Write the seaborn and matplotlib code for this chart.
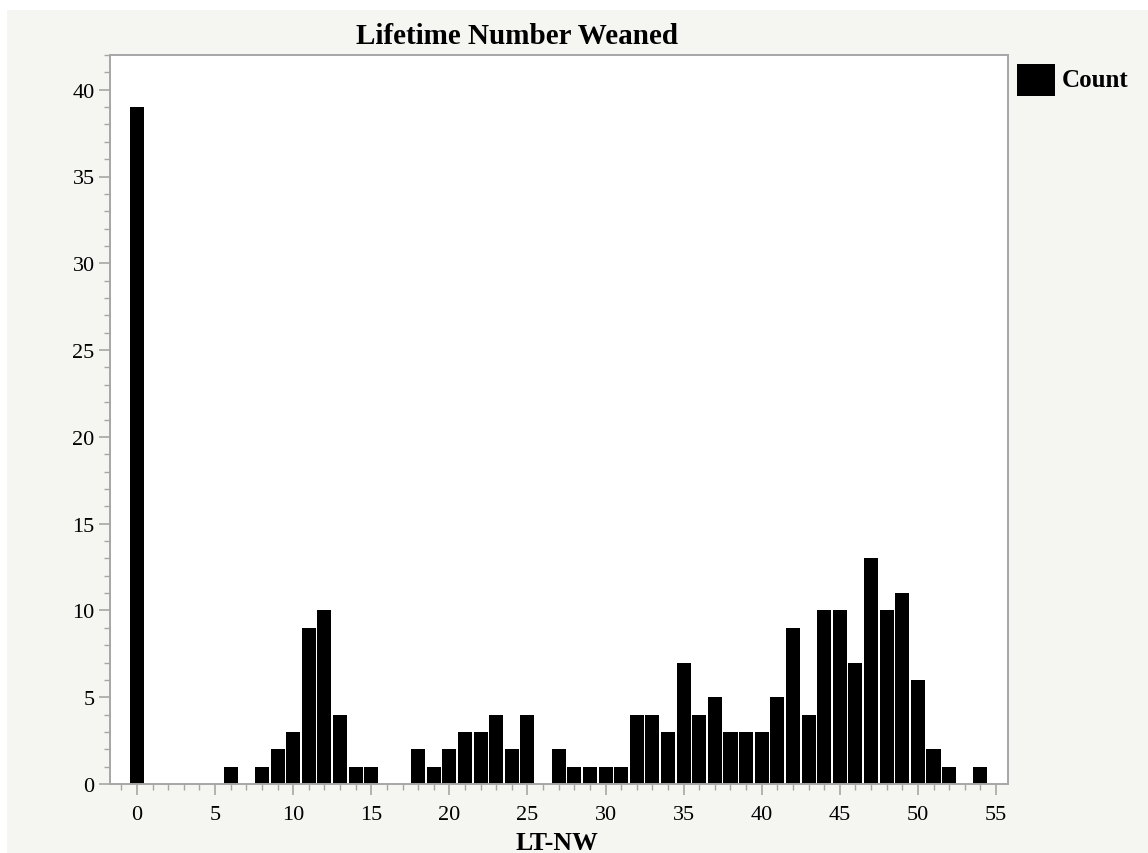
import matplotlib
matplotlib.use("Agg")
import matplotlib.pyplot as plt
from matplotlib.patches import Rectangle
from matplotlib.ticker import MultipleLocator
import seaborn as sns
import pandas as pd

# Lifetime number weaned (LT-NW) and how many animals had each value
lt_nw = [0, 6, 8, 9, 10, 11, 12, 13, 14, 15, 18, 19, 20, 21, 22, 23, 24, 25,
         27, 28, 29, 30, 31, 32, 33, 34, 35, 36, 37, 38, 39, 40, 41, 42, 43,
         44, 45, 46, 47, 48, 49, 50, 51, 52, 54]
counts = [39, 1, 1, 2, 3, 9, 10, 4, 1, 1, 2, 1, 2, 3, 3, 4, 2, 4,
          2, 1, 1, 1, 1, 4, 4, 3, 7, 4, 5, 3, 3, 3, 5, 9, 4,
          10, 10, 7, 13, 10, 11, 6, 2, 1, 1]
x_ticks = [0, 5, 10, 15, 20, 25, 30, 35, 40, 45, 50, 55]
y_ticks = [0, 5, 10, 15, 20, 25, 30, 35, 40]

df = pd.DataFrame({"LT-NW": lt_nw, "Count": counts})

sns.set_style("white")
plt.rcParams["font.family"] = ["Liberation Serif", "DejaVu Serif"]
plt.rcParams["text.color"] = "black"
plt.rcParams["axes.labelcolor"] = "black"

W, H = 1148, 854
fig = plt.figure(figsize=(W / 100, H / 100), dpi=100, facecolor="white")

# light panel behind the whole chart
fig.patches.append(Rectangle((7 / W, 0), 1 - 7 / W, 1 - 11 / H,
                             transform=fig.transFigure, facecolor="#f5f5f2",
                             edgecolor="none", zorder=-10))

ax = fig.add_axes([110 / W, (H - 785) / H, (1008 - 110) / W, (785 - 56) / H])
ax.set_facecolor("white")

sns.barplot(data=df, x="LT-NW", y="Count", native_scale=True, width=0.9,
            color="black", saturation=1, edgecolor="none", ax=ax)

ax.set_xlim(-1.73, 55.77)
ax.set_ylim(0, 42.0)
ax.set_xticks(x_ticks)
ax.set_yticks(y_ticks)
ax.xaxis.set_minor_locator(MultipleLocator(1))
ax.yaxis.set_minor_locator(MultipleLocator(1))

axis_grey = "#a6a6a6"
for s in ax.spines.values():
    s.set_visible(True)
    s.set_color(axis_grey)
    s.set_linewidth(1.4)

ax.tick_params(axis="both", which="major", direction="out", length=8, width=1.2,
               color=axis_grey, labelsize=16, labelcolor="black")
ax.tick_params(axis="both", which="minor", direction="out", length=4.5, width=1.0,
               color=axis_grey)
ax.tick_params(axis="x", which="major", pad=7)
ax.tick_params(axis="y", which="major", pad=3)
ax.tick_params(left=True, bottom=True, which="both")

ax.set_ylabel("")
ax.set_xlabel("LT-NW", fontsize=18.5, fontweight="bold", color="black")
ax.xaxis.label.set_verticalalignment("baseline")
ax.xaxis.set_label_coords((556.5 - 110) / 898, -(850 - 785) / 729)

fig.text(516.5 / W, 1 - 44 / H, "Lifetime Number Weaned", color="black",
         ha="center", va="baseline", fontsize=21, fontweight="bold")

# legend swatch and label
fig.patches.append(Rectangle((1017 / W, 1 - 97 / H), 38 / W, 32 / H,
                             transform=fig.transFigure, facecolor="black",
                             edgecolor="none"))
fig.text(1062 / W, 1 - 87 / H, "Count", ha="left", va="baseline", color="black",
         fontsize=18, fontweight="bold")

fig.savefig("out.png", dpi=100, facecolor=fig.get_facecolor())
